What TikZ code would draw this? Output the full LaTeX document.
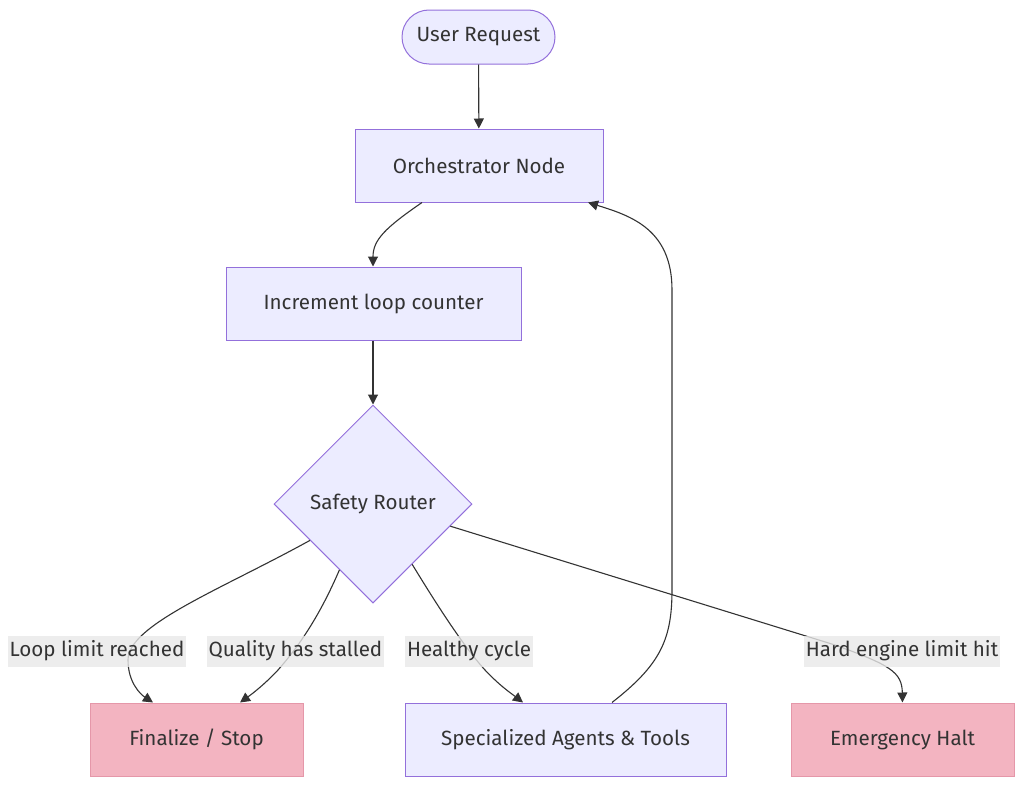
\documentclass[tikz,border=0pt]{standalone}
\usepackage{fontspec}
\setmainfont{Fira Sans}
\usepackage{xcolor}
\usetikzlibrary{arrows.meta,positioning,shapes.geometric,calc}

\definecolor{nodefill}{HTML}{ECECFF}
\definecolor{nodeline}{HTML}{9370DB}
\definecolor{haltfill}{HTML}{F3B4C1}
\definecolor{haltline}{HTML}{E597A9}
\definecolor{ink}{HTML}{333333}

\begin{document}
\begin{tikzpicture}[x=0.5pt, y=-0.5pt,
  every node/.style={font=\fontsize{10.3}{12}\selectfont, text=ink},
  box/.style={draw=nodeline, fill=nodefill, line width=0.5pt, align=center,
              minimum height=36.5pt, inner sep=2pt},
  halt/.style={box, draw=haltline, fill=haltfill},
  term/.style={box, rounded corners=13.5pt, minimum height=27pt},
  dec/.style={diamond, draw=nodeline, fill=nodefill, line width=0.5pt,
              minimum width=99pt, minimum height=99pt, inner sep=0pt},
  lbl/.style={fill=black!9, fill opacity=0.8, text opacity=1,
              inner xsep=1pt, inner ysep=0pt, minimum height=15.5pt},
  arr/.style={-{Triangle[length=5pt, width=5pt]}, draw=ink, line width=0.55pt}
]
\useasboundingbox (0,0) rectangle (1024,787);

\node[term, minimum width=76.5pt] (req) at (478.5,37) {User Request};
\node[box, minimum width=124pt] (orch) at (479,165.5) {Orchestrator Node};
\node[box, minimum width=147.5pt] (inc) at (373.5,303.5) {Increment loop counter};
\node[dec] (router) at (373,504) {Safety Router};
\node[halt, minimum width=106.5pt] (fin) at (196.5,739.5) {Finalize / Stop};
\node[box, minimum width=160.5pt] (agents) at (565.5,739.5) {Specialized Agents \& Tools};
\node[halt, minimum width=111.5pt] (emg) at (902.5,739.5) {Emergency Halt};

% main line
\draw[arr] (req) -- (orch);
\draw[arr] ($(orch.south)+(-57,0)$) .. controls (385,228) and (373,240) .. ($(inc.north)+(-0.5,0)$);
\draw[arr] ($(inc.south)+(-0.5,0)$) -- (router.north);

% router branches
\draw[arr] (router.210) .. controls (220,590) and (128,625) .. (128,660)
  .. controls (128,682) and (140,694) .. ($(fin.north)+(-43.5,0)$);
\draw[arr] (router.243) .. controls (320,615) and (300,645) .. (278,670)
  .. controls (265,684) and (252,694) .. ($(fin.north)+(43.5,0)$);
\draw[arr] (router.303) .. controls (440,610) and (465,648) .. (485,670)
  .. controls (500,686) and (512,694) .. ($(agents.north)+(-42.5,0)$);
\draw[arr] (router.344) -- (835,645)
  .. controls (890,665) and (902,672) .. (emg.north);

% loop back
\draw[arr] ($(agents.north)+(46.5,0)$) .. controls (660,665) and (672,640) .. (672,590)
  -- (672,290) .. controls (672,230) and (632,216) .. ($(orch.south)+(109,0)$);

% edge labels
\node[lbl] (l1) at (97,651) {Loop limit reached};
\node[lbl] (l2) at (295.5,651) {Quality has stalled};
\node[lbl] (l3) at (469,651) {Healthy cycle};
\node[lbl] (l4) at (902,651) {Hard engine limit hit};
\end{tikzpicture}
\end{document}
